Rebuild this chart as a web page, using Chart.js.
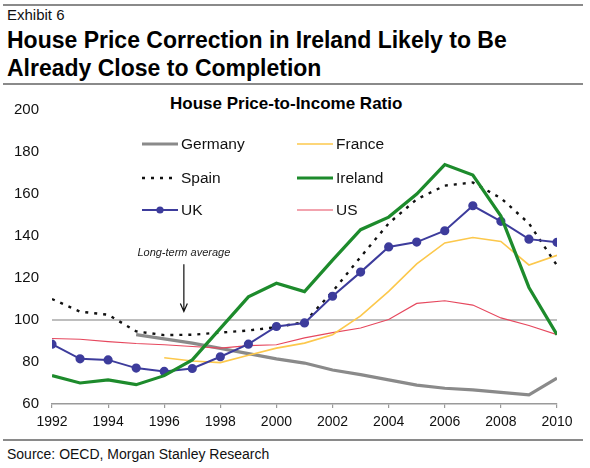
<!DOCTYPE html>
<html>
<head>
<meta charset="utf-8">
<script src="https://cdn.jsdelivr.net/npm/chart.js@4.4.1/dist/chart.umd.min.js"></script>
<style>
  body { margin: 0; width: 590px; height: 468px; background: #fff; position: relative; overflow: hidden;
         font-family: "Liberation Sans", Arial, sans-serif; color: #111; }
  .rule { position: absolute; left: 3px; width: 580px; height: 2px; background: #8a8a8a; }
  #exhibit { position: absolute; left: 7px; top: 6px; font-size: 15px; }
  #title { position: absolute; left: 7px; top: 26px; font-size: 23px; font-weight: bold; line-height: 28px; color: #000; }
  #subtitle { position: absolute; left: 170px; top: 94px; font-size: 17px; font-weight: bold; color: #000; }
  #source { position: absolute; left: 7px; top: 446px; font-size: 14px; }
  #wrap { position: absolute; left: 0; top: 88px; width: 590px; height: 350px; }
</style>
</head>
<body>
<div class="rule" style="top:4px"></div>
<div id="exhibit">Exhibit 6</div>
<div id="title">House Price Correction in Ireland Likely to Be<br>Already Close to Completion</div>
<div class="rule" style="top:83px"></div>
<div id="subtitle">House Price-to-Income Ratio</div>
<div id="wrap"><canvas id="chart"></canvas></div>
<div class="rule" style="top:439px"></div>
<div id="source">Source: OECD, Morgan Stanley Research</div>

<script>
// House price-to-income ratio, index
const years = [1992, 1993, 1994, 1995, 1996, 1997, 1998, 1999, 2000, 2001,
               2002, 2003, 2004, 2005, 2006, 2007, 2008, 2009, 2010];

const germany = [null, null, null, 93, 91, 89, 86.5, 84, 81.5, 79.5,
                 76.2, 74, 71.5, 69, 67.5, 66.7, 65.5, 64.4, 72.3];
const france  = [null, null, null, null, 82, 80.5, 79.7, 83.2, 86.6, 89,
                 93, 102, 113.6, 126.7, 136.7, 139.3, 137.4, 126.2, 130.8];
const spain   = [110, 104, 102.5, 94.6, 92.8, 93, 94, 95, 96.6, 99,
                 113.5, 130, 146, 157.5, 164, 165.5, 158, 146, 126];
const ireland = [73.5, 70, 71.5, 69.2, 73.5, 81, 96, 111, 117.5, 113.5,
                 128.5, 143, 149, 160, 174, 169, 149.5, 115.5, 93];
const uk      = [88.5, 81.5, 81, 77.1, 75.5, 76.9, 82.5, 88.5, 96.9, 98.6,
                 111.3, 122.8, 134.8, 137.1, 142.5, 154.4, 147, 138.5, 137];
const us      = [91.2, 90.8, 89.7, 88.8, 88.2, 87.4, 86.6, 87.8, 88.2, 91.5,
                 94, 96.2, 100.2, 107.9, 109.2, 107.1, 101, 97.4, 93];
const longTermAverage = [100, 100, 100, 100, 100, 100, 100, 100, 100, 100,
                         100, 100, 100, 100, 100, 100, 100, 100, 100];

const yTicks = [60, 80, 100, 120, 140, 160, 180, 200];

const toPoints = arr => years.map((yr, i) => ({ x: yr, y: arr[i] }));

function line(label, values, color, width, extra) {
    return Object.assign({
        label: label,
        data: toPoints(values),
        borderColor: color,
        backgroundColor: color,
        borderWidth: width,
        pointRadius: 0,
        tension: 0,
        fill: false
    }, extra || {});
}

// legend drawn inside the plot, two columns
const insideLegend = {
    id: 'insideLegend',
    afterDraw(chart) {
        const ctx = chart.ctx;
        const cols = [142, 297];
        const rows = [56, 90, 122];
        const items = chart.data.datasets.filter(d => !d.hideInLegend);
        ctx.save();
        items.forEach((ds, i) => {
            const x = cols[i % 2];
            const y = rows[Math.floor(i / 2)];
            ctx.strokeStyle = ds.borderColor;
            ctx.lineWidth = ds.borderWidth;
            ctx.setLineDash(ds.borderDash || []);
            ctx.beginPath();
            ctx.moveTo(x, y);
            ctx.lineTo(x + 36, y);
            ctx.stroke();
            ctx.setLineDash([]);
            if (ds.pointRadius > 0) {
                ctx.fillStyle = ds.borderColor;
                ctx.beginPath();
                ctx.arc(x + 18, y, ds.pointRadius, 0, Math.PI * 2);
                ctx.fill();
            }
            ctx.fillStyle = '#111';
            ctx.font = '15.5px "Liberation Sans", Arial, sans-serif';
            ctx.textBaseline = 'middle';
            ctx.fillText(ds.label, x + 39, y + 1);
        });
        ctx.restore();
    }
};

// "Long-term average" note with arrow pointing at the 100 line
const averageNote = {
    id: 'averageNote',
    afterDraw(chart) {
        const ctx = chart.ctx;
        const xs = chart.scales.x, ys = chart.scales.y;
        const x = xs.getPixelForValue(1996.7);
        const top = ys.getPixelForValue(126.5);
        const tip = ys.getPixelForValue(104);
        ctx.save();
        ctx.fillStyle = '#222';
        ctx.font = 'italic 11px "Liberation Sans", Arial, sans-serif';
        ctx.textAlign = 'center';
        ctx.textBaseline = 'middle';
        ctx.fillText('Long-term average', x, ys.getPixelForValue(131.8));
        ctx.strokeStyle = '#111';
        ctx.lineWidth = 1.2;
        ctx.beginPath();
        ctx.moveTo(x, top);
        ctx.lineTo(x, tip);
        ctx.moveTo(x - 3.5, tip - 8);
        ctx.lineTo(x, tip);
        ctx.lineTo(x + 3.5, tip - 8);
        ctx.stroke();
        ctx.restore();
    }
};

new Chart(document.getElementById('chart'), {
    type: 'line',
    data: {
        datasets: [
            line('Germany', germany, '#8a8a8a', 3.2, { order: 6 }),
            line('France', france, '#fcc84c', 1.6, { order: 4 }),
            line('Spain', spain, '#111111', 2.4, { order: 3, borderDash: [3, 6] }),
            line('Ireland', ireland, '#1d8b2c', 3.2, { order: 1 }),
            line('UK', uk, '#3d3c9c', 2, { order: 2, pointRadius: 3.6, pointHoverRadius: 3.6 }),
            line('US', us, '#e6485e', 1.1, { order: 5 }),
            line('Long-term average', longTermAverage, '#a8a8a8', 1.5, { order: 7, hideInLegend: true })
        ]
    },
    options: {
        responsive: true,
        maintainAspectRatio: false,
        animation: false,
        layout: { padding: { top: 13, right: 33, left: 0, bottom: 0 } },
        plugins: {
            legend: { display: false },
            tooltip: { enabled: false }
        },
        scales: {
            x: {
                type: 'linear',
                min: 1992,
                max: 2010,
                afterFit: scale => { scale.height = 34; },
                grid: { drawOnChartArea: false, tickLength: 4, color: '#9a9a9a', lineWidth: 1.2 },
                border: { color: '#9a9a9a', width: 1.5 },
                ticks: {
                    stepSize: 2,
                    padding: 6,
                    color: '#111',
                    font: { family: '"Liberation Sans", Arial, sans-serif', size: 14 },
                    callback: v => String(v)
                }
            },
            y: {
                min: 60,
                max: 200,
                afterFit: scale => { scale.width = 52; },
                afterBuildTicks: scale => { scale.ticks = yTicks.map(v => ({ value: v })); },
                grid: { display: false, drawTicks: false },
                border: { display: false },
                ticks: {
                    padding: 13,
                    color: '#111',
                    font: { family: '"Liberation Sans", Arial, sans-serif', size: 15 }
                }
            }
        }
    },
    plugins: [insideLegend, averageNote]
});
</script>
</body>
</html>
